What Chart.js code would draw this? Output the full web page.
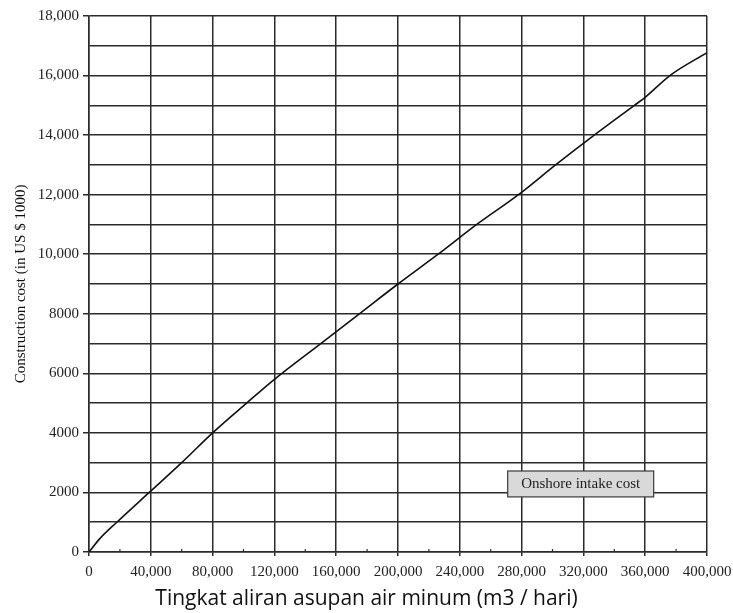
<!DOCTYPE html>
<html>
<head>
<meta charset="utf-8">
<script src="https://cdn.jsdelivr.net/npm/chart.js@4"></script>
<style>
  body { margin: 0; background: #fff; }
  #wrap { width: 733px; height: 613px; }
</style>
</head>
<body>
<div id="wrap"><canvas id="myChart" width="733" height="613"></canvas></div>
<script>
// flow (m3/day) and construction cost (US $ 1000)
const flow = [0, 7000, 18000, 39000, 60000, 80000, 102000, 120000, 150000, 175000, 200000, 226000, 251000, 278000, 302000, 327000, 353000, 360000, 376000, 400000];
const cost = [0, 450, 1000, 2000, 3000, 4000, 5000, 5800, 7000, 8000, 9000, 10000, 11000, 12000, 13000, 14000, 15000, 15270, 16000, 16770];

const xTitle = "Tingkat aliran asupan air minum (m3 / hari)";
const yTitle = "Construction cost (in US $ 1000)";
const noteText = "Onshore intake cost";

const points = flow.map((f, i) => ({ x: f, y: cost[i] }));
const serif = "'Liberation Serif', 'Times New Roman', serif";

// grey label box, small inner ticks and the x title (centred on the page)
const extras = {
  id: "extras",
  afterDatasetsDraw(chart) {
    const { ctx, scales, chartArea } = chart;
    ctx.save();
    // minor ticks at the 20,000 marks, pointing up into the plot
    ctx.strokeStyle = "#2b2b2b";
    ctx.lineWidth = 1.2;
    scales.x.ticks.forEach((t) => {
      if (t.value % 40000 !== 0) {
        const px = scales.x.getPixelForValue(t.value);
        ctx.beginPath();
        ctx.moveTo(px, chartArea.bottom);
        ctx.lineTo(px, chartArea.bottom - 3);
        ctx.stroke();
      }
    });

    const x1 = scales.x.getPixelForValue(271000);
    const x2 = scales.x.getPixelForValue(365500);
    const y1 = scales.y.getPixelForValue(2720);
    const y2 = scales.y.getPixelForValue(1850);
    ctx.fillStyle = "#d9d9d9";
    ctx.strokeStyle = "#3a3a3a";
    ctx.fillRect(x1, y1, x2 - x1, y2 - y1);
    ctx.strokeRect(x1, y1, x2 - x1, y2 - y1);
    ctx.fillStyle = "#222";
    ctx.font = "15px " + serif;
    ctx.textAlign = "center";
    ctx.textBaseline = "middle";
    ctx.fillText(noteText, (x1 + x2) / 2, (y1 + y2) / 2);

    ctx.fillStyle = "#111";
    ctx.font = "21px 'Open Sans', sans-serif";
    ctx.textBaseline = "alphabetic";
    ctx.fillText(xTitle, chart.width / 2, 605);
    ctx.restore();
  },
};

const data = {
  datasets: [
    {
      label: noteText,
      data: points,
      borderColor: "#111",
      borderWidth: 1.6,
      pointRadius: 0,
      cubicInterpolationMode: "monotone",
      fill: false,
    },
  ],
};

const config = {
  type: "line",
  data: data,
  options: {
    responsive: false,
    animation: false,
    layout: { padding: { top: 16, right: 26, left: 0, bottom: 0 } },
    plugins: { legend: { display: false }, tooltip: { enabled: false } },
    scales: {
      x: {
        type: "linear",
        min: 0,
        max: 400000,
        afterFit: (s) => {
          s.height = 61;
          s.paddingLeft = 0;
          s.paddingRight = 0;
        },
        ticks: {
          stepSize: 20000,
          maxRotation: 0,
          autoSkip: false,
          padding: 7,
          color: "#222",
          font: { family: serif, size: 15 },
          callback: (v) => (v % 40000 === 0 ? v.toLocaleString("en-US") : ""),
        },
        grid: {
          color: (c) => (c.tick && c.tick.value % 40000 === 0 ? "#2b2b2b" : "rgba(0,0,0,0)"),
          lineWidth: 1.5,
          tickLength: 4,
        },
        border: { color: "#2b2b2b", width: 1.5 },
      },
      y: {
        min: 0,
        max: 18000,
        afterFit: (s) => { s.width = 89; },
        ticks: {
          stepSize: 1000,
          autoSkip: false,
          padding: 4,
          color: "#222",
          font: { family: serif, size: 15 },
          callback: (v) => {
            if (v % 2000 !== 0) return "";
            return v >= 10000 ? v.toLocaleString("en-US") : String(v);
          },
        },
        grid: {
          color: "#2b2b2b",
          lineWidth: 1.5,
          tickLength: 6,
          tickColor: (c) => (c.tick && c.tick.value % 2000 === 0 ? "#2b2b2b" : "rgba(0,0,0,0)"),
        },
        border: { color: "#2b2b2b", width: 1.5 },
        title: {
          display: true,
          text: yTitle,
          color: "#111",
          font: { family: serif, size: 15 },
          padding: { top: 12, bottom: 0 },
        },
      },
    },
  },
  plugins: [extras],
};

const myChart = new Chart(document.getElementById("myChart"), config);
</script>
</body>
</html>
